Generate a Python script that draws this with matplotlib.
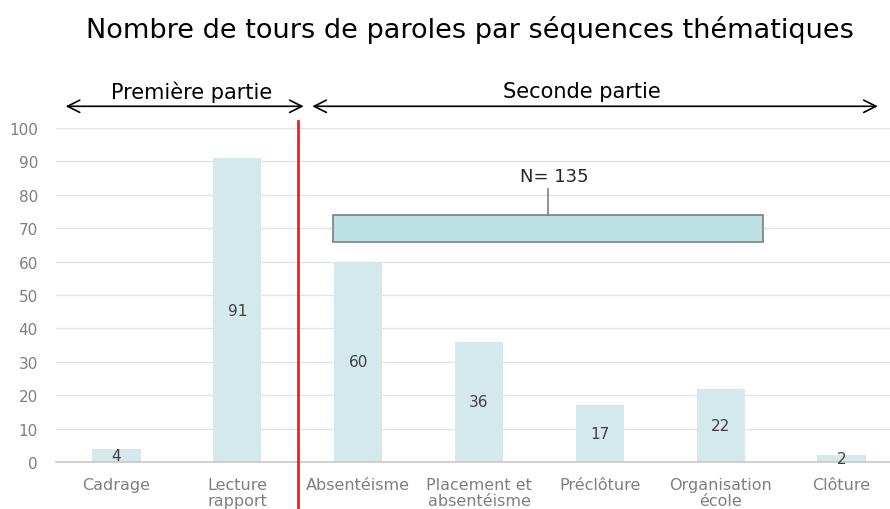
import numpy as np
import matplotlib.pyplot as plt
from matplotlib.patches import Rectangle

# Data
categories = ["Cadrage", "Lecture\nrapport", "Absentéisme", "Placement et\nabsentéisme",
              "Préclôture", "Organisation\nécole", "Clôture"]
values = [4, 91, 60, 36, 17, 22, 2]
group_label = "N= 135"
part_labels = ["Première partie", "Seconde partie"]

bar_color = "#d3e9ec"
fig = plt.figure(figsize=(8.9, 5.1), dpi=100)
ax = fig.add_axes([56 / 890, 47 / 510, 846 / 890, 334 / 510])

x = np.arange(len(categories))
bars = ax.bar(x, values, width=0.4, color=bar_color, zorder=2)

for xi, v in zip(x, values):
    ax.text(xi, v / 2, str(v), ha="center", va="center", fontsize=11, color="#404040", zorder=3)

ax.set_xlim(-0.5, 6.5)
ax.set_ylim(0, 100)
ax.set_yticks(range(0, 101, 10))
ax.set_xticks(x)
ax.set_xticklabels(categories, fontsize=11.5, color="#7f7f7f", linespacing=1.05)
ax.tick_params(axis="y", labelsize=11, labelcolor="#7f7f7f", length=0, pad=13)
ax.tick_params(axis="x", length=0, pad=11)
ax.grid(axis="y", color="#e4e4e4", linewidth=1, zorder=0)
for s in ["top", "right", "left"]:
    ax.spines[s].set_visible(False)
ax.spines["bottom"].set_color("#c8c8c8")
ax.spines["bottom"].set_linewidth(1.2)

# red separator
ax.plot([1.5, 1.5], [-14, 102], color="#ff1a1a", linewidth=2, clip_on=False, zorder=4)

# bracket box for N= 135
ax.add_patch(Rectangle((1.79, 66), 5.35 - 1.79, 8, facecolor="#bde0e3",
                       edgecolor="#7f7f7f", linewidth=1.2, zorder=3))
ax.plot([3.57, 3.57], [74, 81.7], color="#7f7f7f", linewidth=1.2, zorder=3)
ax.text(3.62, 85.5, group_label, ha="center", va="center", fontsize=13, color="#262626")

# part arrows
ax.annotate("", xy=(-0.42, 106.5), xytext=(1.55, 106.5), xycoords="data",
            arrowprops=dict(arrowstyle="<->", color="#000000", lw=1.2, mutation_scale=22,
                            shrinkA=0, shrinkB=0), annotation_clip=False)
ax.annotate("", xy=(1.62, 106.5), xytext=(6.3, 106.5), xycoords="data",
            arrowprops=dict(arrowstyle="<->", color="#000000", lw=1.2, mutation_scale=22,
                            shrinkA=0, shrinkB=0), annotation_clip=False)
ax.text(0.62, 111, part_labels[0], ha="center", va="center", fontsize=15, color="#000000")
ax.text(3.85, 111, part_labels[1], ha="center", va="center", fontsize=15, color="#000000")

fig.text(470 / 890, 1 - 30 / 510, "Nombre de tours de paroles par séquences thématiques",
         ha="center", va="center", fontsize=19.5, color="#000000")

fig.savefig("out.png", dpi=100)
